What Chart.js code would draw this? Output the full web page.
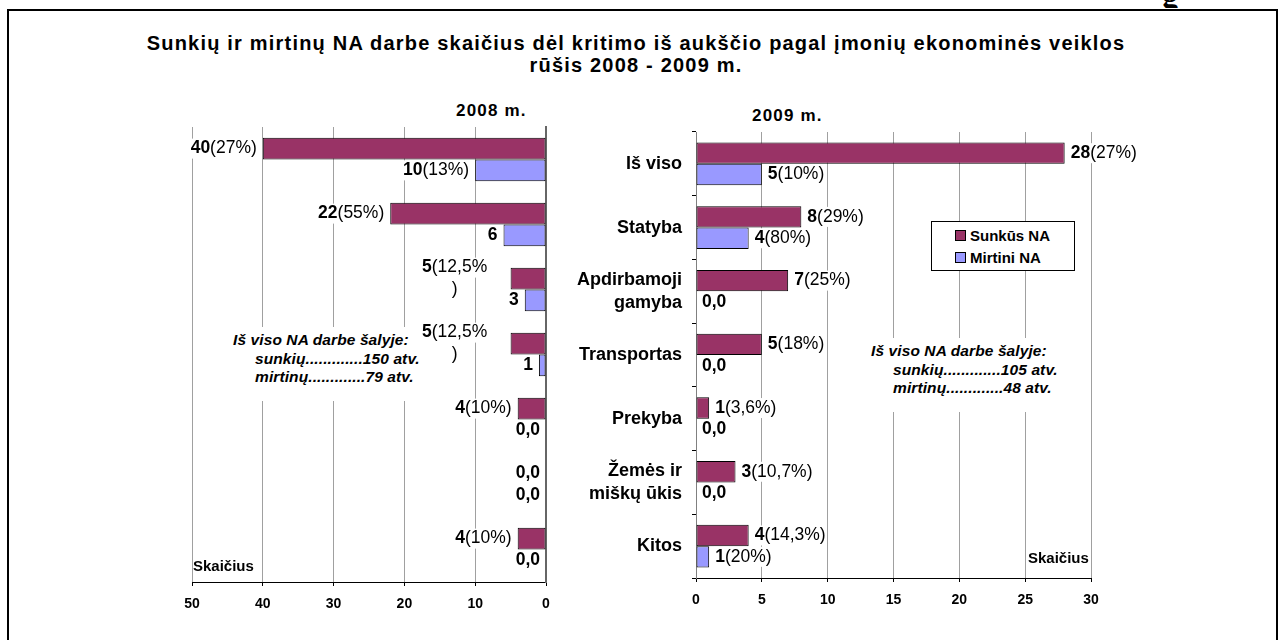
<!DOCTYPE html>
<html>
<head>
<meta charset="utf-8">
<title>Sunkių ir mirtinų NA darbe skaičius</title>
<script src="https://cdn.jsdelivr.net/npm/chart.js@4.4.0/dist/chart.umd.min.js"></script>
<style>
    body { margin: 0; background: #fff; font-family: 'Liberation Sans', Arial, sans-serif; }
    #page { position: relative; width: 1283px; height: 640px; overflow: hidden; background: #fff; }
    #frame { position: absolute; left: 7px; top: 9px; width: 1271px; height: 700px; border: 2px solid #000; box-sizing: border-box; }
    #corner { position: absolute; left: 1160px; top: 0; width: 40px; height: 8px; overflow: hidden; }
    #corner span { position: absolute; top: -22px; left: 2px; font: bold 32px 'Liberation Serif', serif; }
    .title { position: absolute; left: 0; width: 1272px; text-align: center; font-weight: bold; font-size: 20px; letter-spacing: 1.2px; }
    .sub { position: absolute; font-weight: bold; font-size: 17px; letter-spacing: 1.2px; white-space: nowrap; }
    canvas { position: absolute; }
    .note { position: absolute; background: #fff; font-weight: bold; font-style: italic; font-size: 15.5px; letter-spacing: 0.1px; line-height: 18.5px; white-space: nowrap; padding: 4px 2px 14px 6px; }
    .note div { padding-left: 22px; }
    .note div:first-child { padding-left: 0; }
    .axisname { position: absolute; font-weight: bold; font-size: 15px; white-space: nowrap; }
    #legend { position: absolute; left: 931px; top: 221px; width: 144px; height: 50px; border: 1px solid #000; box-sizing: border-box; background: #fff; font-weight: bold; font-size: 15px; }
    #legend .item { position: absolute; left: 23px; white-space: nowrap; }
    #legend .sw { display: inline-block; width: 9px; height: 9px; border: 1px solid #000; margin-right: 4px; vertical-align: 0; }
</style>
</head>
<body>
<div id="page">
    <div id="corner"><span>g</span></div>
    <div id="frame"></div>

    <div class="title" style="top:32px;">Sunkių ir mirtinų NA darbe skaičius dėl kritimo iš aukščio pagal įmonių ekonominės veiklos</div>
    <div class="title" style="top:54px;">rūšis 2008 - 2009 m.</div>

    <div class="sub" style="left:456px; top:101px;">2008 m.</div>
    <div class="sub" style="left:752px; top:106px;">2009 m.</div>

    <canvas id="chart2008" width="420" height="530" style="left:150px; top:100px;"></canvas>
    <canvas id="chart2009" width="700" height="530" style="left:570px; top:100px;"></canvas>

    <div class="note" style="left:227px; top:327px;">
        <div>Iš viso NA darbe šalyje:</div>
        <div>sunkių.............150 atv.</div>
        <div>mirtinų.............79 atv.</div>
    </div>
    <div class="note" style="left:865px; top:338px; padding-right:10px;">
        <div>Iš viso NA darbe šalyje:</div>
        <div>sunkių.............105 atv.</div>
        <div>mirtinų.............48 atv.</div>
    </div>

    <div class="axisname" style="left:193px; top:557px;">Skaičius</div>
    <div class="axisname" style="left:1028px; top:549px;">Skaičius</div>

    <div id="legend">
        <div class="item" style="top:5px;"><span class="sw" style="background:#993366;"></span>Sunkūs NA</div>
        <div class="item" style="top:27px;"><span class="sw" style="background:#9999FF;"></span>Mirtini NA</div>
    </div>
</div>

<script>
// Categories (shown on the 2009 chart, shared by both)
const categories = ['Iš viso', 'Statyba', ['Apdirbamoji', 'gamyba'], 'Transportas', 'Prekyba', ['Žemės ir', 'miškų ūkis'], 'Kitos'];

// 2008 values
const sunkus2008 = [40, 22, 5, 5, 4, 0, 4];
const mirtini2008 = [10, 6, 3, 1, 0, 0, 0];
const sunkus2008Labels = ['40(27%)', '22(55%)', '5(12,5%\n)', '5(12,5%\n)', '4(10%)', '0,0', '4(10%)'];
const mirtini2008Labels = ['10(13%)', '6', '3', '1', '0,0', '0,0', '0,0'];

// 2009 values
const sunkus2009 = [28, 8, 7, 5, 1, 3, 4];
const mirtini2009 = [5, 4, 0, 0, 0, 0, 1];
const sunkus2009Labels = ['28(27%)', '8(29%)', '7(25%)', '5(18%)', '1(3,6%)', '3(10,7%)', '4(14,3%)'];
const mirtini2009Labels = ['5(10%)', '4(80%)', '0,0', '0,0', '0,0', '0,0', '1(20%)'];

// Axis ticks
const ticks2008 = { min: 0, max: 50, step: 10 };
const ticks2009 = { min: 0, max: 30, step: 5 };

const FONT = "'Liberation Sans', Arial, sans-serif";
const RED = '#993366';
const BLUE = '#9999FF';

// Draws "number(percent)" labels next to bar ends: number bold, rest normal,
// on a white box so the gridlines do not run through the text
const valueLabels = {
    id: 'valueLabels',
    afterDatasetsDraw(chart) {
        const ctx = chart.ctx;
        const rev = chart.options.scales.x.reverse;
        const size = 17.5;
        const bold = 'bold ' + size + 'px ' + FONT;
        const normal = size + 'px ' + FONT;
        ctx.save();
        ctx.textBaseline = 'middle';
        ctx.textAlign = 'left';
        chart.data.datasets.forEach((ds, i) => {
            const meta = chart.getDatasetMeta(i);
            meta.data.forEach((bar, j) => {
                const lines = ds.valueLabels[j].split('\n');
                lines.forEach((line, k) => {
                    const m = line.match(/^([\d,]*)(.*)$/);
                    ctx.font = bold;
                    const wb = ctx.measureText(m[1]).width;
                    ctx.font = normal;
                    const wn = ctx.measureText(m[2]).width;
                    const w = wb + wn;
                    let x;
                    if (lines.length > 1) {
                        x = bar.x - 56 - w / 2;
                    } else if (rev) {
                        x = bar.x - 6 - w;
                    } else {
                        x = bar.x + 6;
                    }
                    const y = bar.y + (k - (lines.length - 1) / 2) * 22;
                    ctx.fillStyle = '#fff';
                    ctx.fillRect(x - 1, y - 10, w + 2, 20);
                    ctx.fillStyle = '#000';
                    ctx.font = bold;
                    ctx.fillText(m[1], x, y);
                    ctx.font = normal;
                    ctx.fillText(m[2], x + wb, y);
                });
            });
        });
        ctx.restore();
    }
};

function barSet(label, data, color, labels) {
    return {
        label: label,
        data: data,
        valueLabels: labels,
        backgroundColor: color,
        borderColor: '#000',
        borderWidth: 1,
        borderSkipped: false,
        categoryPercentage: 0.67,
        barPercentage: 1
    };
}

// 2008 chart: reversed value axis, no category labels
new Chart(document.getElementById('chart2008'), {
    type: 'bar',
    data: {
        labels: categories,
        datasets: [
            barSet('Sunkūs NA', sunkus2008, RED, sunkus2008Labels),
            barSet('Mirtini NA', mirtini2008, BLUE, mirtini2008Labels)
        ]
    },
    options: {
        indexAxis: 'y',
        responsive: false,
        animation: false,
        layout: { padding: { left: 42, right: 24, top: 27, bottom: 18 } },
        plugins: { legend: { display: false }, tooltip: { enabled: false } },
        scales: {
            x: {
                reverse: true,
                min: ticks2008.min,
                max: ticks2008.max,
                ticks: { stepSize: ticks2008.step, color: '#000', font: { family: FONT, size: 14, weight: 'bold' }, padding: 10, maxRotation: 0 },
                grid: { color: '#a0a0a0', tickColor: '#000', tickLength: 4 },
                border: { color: '#000' },
                afterFit: s => { s.height = 30; }
            },
            y: {
                position: 'right',
                ticks: { display: false },
                grid: { display: false },
                border: { color: '#666', width: 2 },
                afterFit: s => { s.width = 0; }
            }
        }
    },
    plugins: [valueLabels]
});

// 2009 chart
new Chart(document.getElementById('chart2009'), {
    type: 'bar',
    data: {
        labels: categories,
        datasets: [
            barSet('Sunkūs NA', sunkus2009, RED, sunkus2009Labels),
            barSet('Mirtini NA', mirtini2009, BLUE, mirtini2009Labels)
        ]
    },
    options: {
        indexAxis: 'y',
        responsive: false,
        animation: false,
        layout: { padding: { left: 0, right: 179, top: 32, bottom: 22 } },
        plugins: { legend: { display: false }, tooltip: { enabled: false } },
        scales: {
            x: {
                min: ticks2009.min,
                max: ticks2009.max,
                ticks: { stepSize: ticks2009.step, color: '#000', font: { family: FONT, size: 14, weight: 'bold' }, padding: 10, maxRotation: 0 },
                grid: { color: '#a0a0a0', tickColor: '#000', tickLength: 4 },
                border: { color: '#000' },
                afterFit: s => { s.height = 30; }
            },
            y: {
                ticks: { color: '#000', font: { family: FONT, size: 18, weight: 'bold', lineHeight: 1.25 }, padding: 10 },
                grid: { drawOnChartArea: false, tickLength: 4, color: '#000' },
                border: { color: '#808080' },
                afterFit: s => { s.width = 126; }
            }
        }
    },
    plugins: [valueLabels]
});
</script>
</body>
</html>
